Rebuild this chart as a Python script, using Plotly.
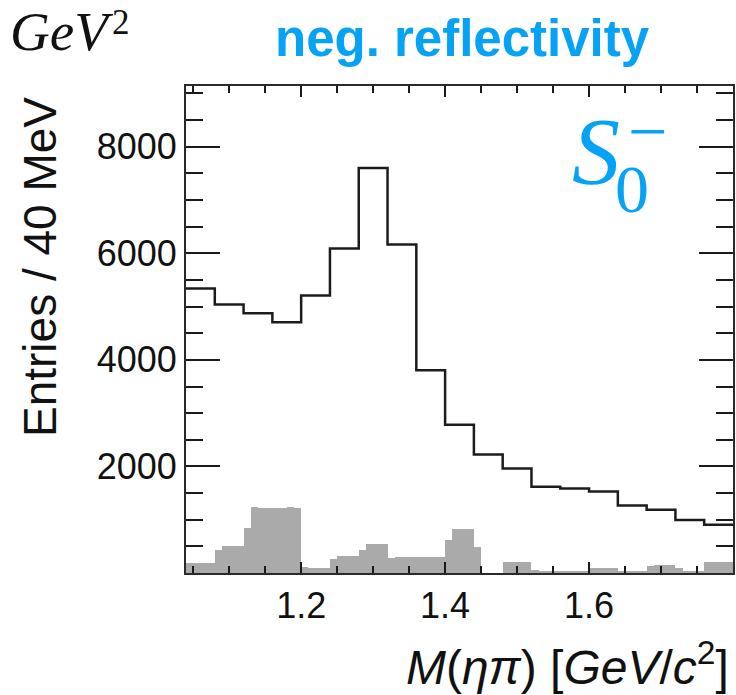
import plotly.graph_objects as go

# ---------------- data ----------------
mass_lo = 1.04          # GeV/c^2, lower edge of first bin
bin_width = 0.04        # 40 MeV bins
entries = [5340, 5040, 4875, 4706, 5206, 6088, 7600, 6163, 3806, 2781,
           2225, 1963, 1619, 1588, 1531, 1269, 1188, 994, 906]

fine_width = 0.01       # gray band, 10 MeV bins
gray = [182, 182, 182, 182, 440, 506, 506, 506, 838,
        1230, 1215, 1225, 1215, 1222, 1230, 1215,
        120, 100, 100, 100, 263, 319, 319, 319, 440, 538, 540, 535,
        290, 294, 296, 294, 292, 294, 295, 294,
        619, 830, 818, 830, 494, 0, 0, 0,
        200, 200, 200, 200, 50, 30, 30, 30, 30, 30, 30, 30,
        100, 100, 100, 100, 30, 30, 30, 30,
        125, 156, 156, 156, 90, 20, 20, 20,
        206, 206, 206, 206]

x_ticks = [1.2, 1.4, 1.6]
x_labels = ["1.2", "1.4", "1.6"]
y_ticks = [2000, 4000, 6000, 8000]
y_labels = ["2000", "4000", "6000", "8000"]

x_range = [1.04, 1.80]
y_range = [0, 9140]

# ---------------- derived ----------------
edges = [round(mass_lo + i * bin_width, 4) for i in range(len(entries) + 1)]
line_y = entries + [entries[-1]]
fine_centers = [round(mass_lo + (i + 0.5) * fine_width, 4) for i in range(len(gray))]

W, H = 736, 695
L, R, T, B = 186, 3, 86, 122
PW, PH = W - L - R, H - T - B

def px(X):
    return (X - L) / PW

def py(Y):
    return (H - B - Y) / PH

BLUE = "#06a2f5"
SANS = "Liberation Sans, Arial, Helvetica, sans-serif"
SERIF = "Liberation Serif, Times New Roman, serif"

fig = go.Figure()
fig.add_trace(go.Bar(
    x=fine_centers, y=gray, width=fine_width,
    marker=dict(color="#aaaaaa", line=dict(width=0)),
    xaxis="x", yaxis="y", hoverinfo="skip", showlegend=False))
fig.add_trace(go.Scatter(
    x=edges, y=line_y, mode="lines",
    line=dict(shape="hv", color="#1c1c1c", width=2.5),
    xaxis="x2", yaxis="y2", hoverinfo="skip", showlegend=False))

common = dict(showline=True, linecolor="#2a2a2a", linewidth=2, showgrid=False,
              zeroline=False, ticks="inside", tickcolor="#1a1a1a", tickwidth=2)
tickfont = dict(family=SANS, size=36, color="#111111")

xmain = dict(range=x_range, tickmode="array", tickvals=x_ticks, ticktext=x_labels,
             ticklen=11, tickfont=tickfont,
             minor=dict(tickmode="linear", tick0=1.0, dtick=0.05, ticklen=7,
                        ticks="inside", tickcolor="#1a1a1a", tickwidth=1.6),
             **common)
ymain = dict(range=y_range, tickmode="array", tickvals=y_ticks, ticktext=y_labels,
             ticklen=34, tickfont=tickfont,
             minor=dict(tickmode="linear", tick0=0, dtick=500, ticklen=17,
                        ticks="inside", tickcolor="#1a1a1a", tickwidth=1.6),
             **common)

fig.update_layout(
    width=W, height=H,
    margin=dict(l=L, r=R, t=T, b=B, pad=0),
    paper_bgcolor="white", plot_bgcolor="white",
    bargap=0,
    xaxis=dict(xmain, domain=[0, 1], anchor="y", side="bottom"),
    yaxis=dict(ymain, domain=[0, 1], anchor="x", side="left"),
    xaxis2=dict(xmain, overlaying="x", anchor="y", side="top", matches="x",
                showticklabels=False),
    yaxis2=dict(ymain, overlaying="y", anchor="x", side="right", matches="y",
                showticklabels=False),
    annotations=[
        dict(text="neg. reflectivity", x=px(463), y=py(38), xref="paper", yref="paper",
             xanchor="center", yanchor="middle", showarrow=False,
             font=dict(family=SANS, size=51, color=BLUE, weight="bold")),
        dict(text="<i>GeV</i>", x=px(8), y=py(31), xref="paper", yref="paper",
             xanchor="left", yanchor="middle", showarrow=False,
             font=dict(family=SERIF, size=55, color="#111111")),
        dict(text="2", x=px(110), y=py(22), xref="paper", yref="paper",
             xanchor="left", yanchor="middle", showarrow=False,
             font=dict(family=SERIF, size=35, color="#111111")),
        dict(text="<i>M</i>(<i>ηπ</i>) [<i>GeV</i>/<i>c</i><sup>2</sup>]", x=px(731), y=py(664),
             xref="paper", yref="paper", xanchor="right", yanchor="middle", showarrow=False,
             font=dict(family=SANS, size=48, color="#111111")),
        dict(text="Entries / 40 MeV", x=px(40), y=py(267), xref="paper", yref="paper",
             xanchor="center", yanchor="middle", textangle=-90, showarrow=False,
             font=dict(family=SANS, size=46, color="#111111")),
        dict(text="<i>S</i>", x=px(596), y=py(151), xref="paper", yref="paper",
             xanchor="center", yanchor="middle", showarrow=False,
             font=dict(family=SERIF, size=96, color=BLUE)),
        dict(text="0", x=px(632), y=py(189), xref="paper", yref="paper",
             xanchor="center", yanchor="middle", showarrow=False,
             font=dict(family=SERIF, size=68, color=BLUE)),
        dict(text="\u2212", x=px(647), y=py(132), xref="paper", yref="paper",
             xanchor="center", yanchor="middle", showarrow=False,
             font=dict(family=SERIF, size=70, color=BLUE)),
    ],
)

fig.write_html("out.html")
